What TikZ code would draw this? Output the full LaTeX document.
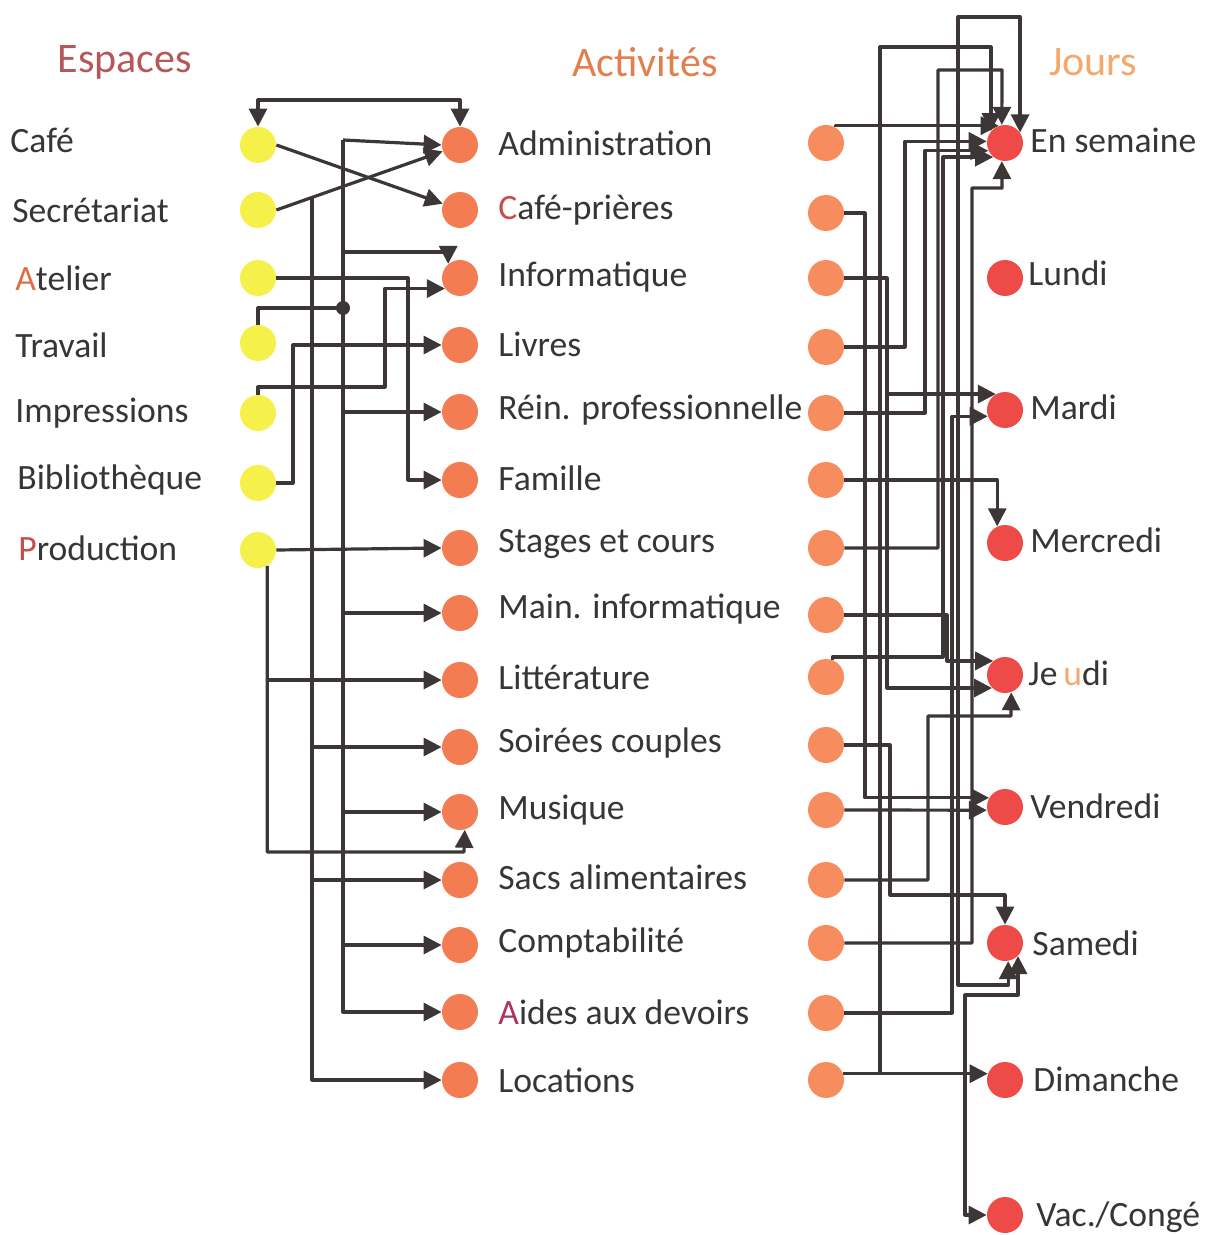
\documentclass[tikz,border=0pt]{standalone}
\usepackage{fontspec}
\setmainfont{Carlito}
\usetikzlibrary{arrows.meta}
\definecolor{dotY}{HTML}{F5F04A}
\definecolor{dotO}{HTML}{F47C52}
\definecolor{dotL}{HTML}{F78D5E}
\definecolor{dotR}{HTML}{EE4A47}
\definecolor{wirec}{HTML}{3D3636}
\definecolor{txt}{HTML}{363636}
\definecolor{ttlE}{HTML}{B5585A}
\definecolor{ttlA}{HTML}{E37E4E}
\definecolor{ttlJ}{HTML}{F4A86C}
\definecolor{accR}{HTML}{C44E4C}
\definecolor{accO}{HTML}{DE6E48}
\definecolor{accP}{HTML}{B0305E}
\tikzset{
  ydot/.style={circle, fill=dotY, minimum size=18pt, inner sep=0pt},
  odot/.style={circle, fill=dotO, minimum size=18pt, inner sep=0pt},
  ldot/.style={circle, fill=dotL, minimum size=18pt, inner sep=0pt},
  rdot/.style={circle, fill=dotR, minimum size=18pt, inner sep=0pt},
  lbl/.style={anchor=west, inner sep=0pt, text=txt, font=\fontsize{17.8}{20}\selectfont},
  ttl/.style={inner sep=0pt, font=\fontsize{21}{24}\selectfont},
  wire/.style={line width=1.6pt, draw=wirec, line join=round},
  arr/.style={wire, -{Triangle[length=9pt,width=9pt]}},
  both/.style={wire, {Triangle[length=9pt,width=9pt]}-{Triangle[length=9pt,width=9pt]}},
}
\begin{document}
\begin{tikzpicture}[x=0.5pt, y=-0.5pt]
\useasboundingbox (0,0) rectangle (1206,1235);
% titles
\node[ttl, text=ttlE] (tE) at (125,62) {Espaces};
\node[ttl, text=ttlA] (tA) at (645,62) {Activités};
\node[ttl, text=ttlJ] (tJ) at (1093,62) {Jours};
% espaces
\node[ydot] (cafe) at (258,145) {};
\node[ydot] (secr) at (258,210) {};
\node[ydot] (atel) at (258,278) {};
\node[ydot] (trav) at (258,343) {};
\node[ydot] (impr) at (258,413) {};
\node[ydot] (bibl) at (258,483) {};
\node[ydot] (prod) at (258,550) {};
\node[lbl] (lcafe) at (10,140) {Café};
\node[lbl] (lsecr) at (12,210) {Secrétariat};
\node[lbl] (latel) at (15,278) {\textcolor{accO}{A}telier};
\node[lbl] (ltrav) at (15,345) {Travail};
\node[lbl] (limpr) at (15,413) {Impressions};
\node[lbl] (lbibl) at (17,480) {Bibliothèque};
\node[lbl] (lprod) at (18,548) {\textcolor{accR}{P}roduction};
% activites
\node[odot] (a1) at (460,145) {};
\node[odot] (a2) at (460,210) {};
\node[odot] (a3) at (460,278) {};
\node[odot] (a4) at (460,345) {};
\node[odot] (a5) at (460,412) {};
\node[odot] (a6) at (460,480) {};
\node[odot] (a7) at (460,548) {};
\node[odot] (a8) at (460,613) {};
\node[odot] (a9) at (460,680) {};
\node[odot] (a10) at (460,747) {};
\node[odot] (a11) at (460,812) {};
\node[odot] (a12) at (460,880) {};
\node[odot] (a13) at (460,945) {};
\node[odot] (a14) at (460,1012) {};
\node[odot] (a15) at (460,1080) {};
\node[lbl] (la1) at (498,143) {Administration};
\node[lbl] (la2) at (498,210) {\textcolor{accR}{C}afé-prières};
\node[lbl] (la3) at (498,277) {Informatique};
\node[lbl] (la4) at (498,344) {Livres};
\node[lbl] (la5) at (498,410) {Réin. professionnelle};
\node[lbl] (la6) at (498,478) {Famille};
\node[lbl] (la7) at (498,544) {Stages et cours};
\node[lbl] (la8) at (498,609) {Main. informatique};
\node[lbl] (la9) at (498,677) {Littérature};
\node[lbl] (la10) at (498,743) {Soirées couples};
\node[lbl] (la11) at (498,810) {Musique};
\node[lbl] (la12) at (498,877) {Sacs alimentaires};
\node[lbl] (la13) at (498,943) {Comptabilité};
\node[lbl] (la14) at (498,1012) {\textcolor{accP}{A}ides aux devoirs};
\node[lbl] (la15) at (498,1080) {Locations};
% right sources
\node[ldot] (r1) at (826,143) {};
\node[ldot] (r2) at (826,213) {};
\node[ldot] (r3) at (826,278) {};
\node[ldot] (r4) at (826,347) {};
\node[ldot] (r5) at (826,413) {};
\node[ldot] (r6) at (826,480) {};
\node[ldot] (r7) at (826,548) {};
\node[ldot] (r8) at (826,615) {};
\node[ldot] (r9) at (826,677) {};
\node[ldot] (r10) at (826,745) {};
\node[ldot] (r11) at (826,810) {};
\node[ldot] (r12) at (826,880) {};
\node[ldot] (r13) at (826,943) {};
\node[ldot] (r14) at (826,1013) {};
\node[ldot] (r15) at (826,1080) {};
% jours
\node[rdot] (j1) at (1005,143) {};
\node[rdot] (j2) at (1005,278) {};
\node[rdot] (j3) at (1005,410) {};
\node[rdot] (j4) at (1005,543) {};
\node[rdot] (j5) at (1005,675) {};
\node[rdot] (j6) at (1005,807) {};
\node[rdot] (j7) at (1005,943) {};
\node[rdot] (j8) at (1005,1080) {};
\node[rdot] (j9) at (1005,1215) {};
\node[lbl] (lj1) at (1030,140) {En semaine};
\node[lbl] (lj2) at (1028,273) {Lundi};
\node[lbl] (lj3) at (1030,407) {Mardi};
\node[lbl] (lj4) at (1030,540) {Mercredi};
\node[lbl] (lj5) at (1028,673) {Je\,\textcolor{ttlJ}{u}di};
\node[lbl] (lj6) at (1030,806) {Vendredi};
\node[lbl] (lj7) at (1032,943) {Samedi};
\node[lbl] (lj8) at (1033,1079) {Dimanche};
\node[lbl] (lj9) at (1036,1217) {Vac./Congé};
% ---- left wires
\draw[both] (cafe.north) -- (258,100) -| (a1.north);
\draw[arr] (cafe.east) -- (a2.160);
\draw[arr] (secr.east) -- (a1.200);
\coordinate (sb) at (312,197);
\draw[arr] (sb) |- (a15.west);
\draw[arr] (sb |- a10.west) -- (a10.west);
\draw[arr] (sb |- a12.west) -- (a12.west);
\coordinate (tb) at (343,308);
\coordinate (tbtop) at (343,140);
\draw[wire] (trav.north) |- (tb);
\fill[wirec] (tb) circle (3.5pt);
\draw[arr] (tbtop) -- (a1.west);
\draw[arr] (tbtop) |- (a14.west);
\draw[arr] (343,252) -| (a3.130);
\draw[arr] (tbtop |- a5.west) -- (a5.west);
\draw[arr] (tbtop |- a8.west) -- (a8.west);
\draw[arr] (tbtop |- a11.west) -- (a11.west);
\draw[arr] (tbtop |- a13.west) -- (a13.west);
\draw[arr] (atel.east) -- (408,278) |- (a6.west);
\draw[arr] (impr.north) |- (385,387) |- (a3.215);
\draw[arr] (bibl.east) -- (293,483) |- (a4.west);
\draw[arr] (prod.east) -- (a7.west);
\draw[arr] (prod.300) |- (464,852) -- (a11.285);
\draw[arr] (prod.300 |- a9.west) -- (a9.west);
% ---- right wires
\draw[arr] (r1.60) |- (j1.110);
\draw[arr] (r2.east) -- (865,213) |- (j6.150);
\draw[arr] (r3.east) -- (887,278) |- (j5.225);
\draw[arr] (887,278) |- (j3.120);
\draw[arr] (r4.east) -- (905,347) |- (j1.175);
\draw[arr] (r5.east) -- (925,413) |- (j1.205);
\draw[arr] (r6.east) -| (j4.115);
\draw[arr] (r7.east) -- (938,548) |- (1002,70) -- (j1.100);
\draw[arr] (r8.east) -- (947,615) |- (j5.130);
\draw[arr] (r9.70) |- (943,657) |- (j1.230);
\draw[arr] (r10.east) -| (890,895) -| (j7.north);
\draw[arr] (r11.east) -- (j6.190);
\draw[arr] (r12.east) -- (928,880) |- (1011,716) -- (j5.290);
\draw[arr] (r13.east) -- (972,943) |- (1002,188) -- (j1.260);
\draw[arr] (r14.east) -- (952,1013) |- (j3.200);
\draw[arr] (r15.20) -- (j8.160);
\draw[arr] (880,1074) -- (880,47) -| (j1.140);
\draw[both] (j1.35) |- (958,17) -- (958,985) -| (j7.280);
\draw[both] (j9.west) -| (965,995) -| (j7.315);
\end{tikzpicture}
\end{document}
